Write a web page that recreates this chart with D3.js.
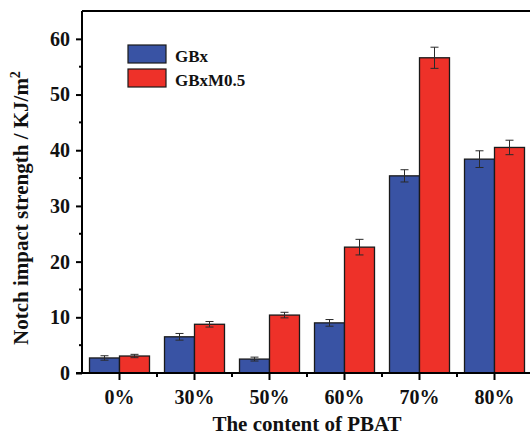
<!DOCTYPE html>
<html>
<head>
<meta charset="utf-8">
<script src="https://cdn.jsdelivr.net/npm/d3@7"></script>
<style>
  html, body { margin: 0; padding: 0; background: #fff; }
  svg { display: block; }
  text { font-family: "Liberation Serif", "Times New Roman", serif; font-weight: bold; fill: #111; }
</style>
</head>
<body>
<svg id="chart" width="530" height="437"></svg>
<script>
// PBAT content groups
const categories = ["0%", "30%", "50%", "60%", "70%", "80%"];
const seriesNames = ["GBx", "GBxM0.5"];
// Notch impact strength (KJ/m²)
const gbxValues = [2.7, 6.5, 2.5, 9.0, 35.4, 38.4];
const gbxErrors = [0.4, 0.6, 0.35, 0.6, 1.1, 1.5];
const gbxm05Values = [3.05, 8.75, 10.4, 22.6, 56.6, 40.5];
const gbxm05Errors = [0.3, 0.5, 0.5, 1.4, 1.9, 1.3];
const yTicks = [0, 10, 20, 30, 40, 50, 60];
const seriesColors = ["#3953a4", "#ee3129"];

const svg = d3.select("#chart");
const margin = { left: 82, right: -2, top: 11, bottom: 64 };
const W = 530, H = 437;
const x0 = margin.left, x1 = W - margin.right;
const yBottom = H - margin.bottom, yTop = margin.top;
const serif = '"Liberation Serif", "Times New Roman", serif';

const x = d3.scaleBand().domain(categories).range([x0, x1]).paddingInner(0.2).paddingOuter(0.1);
const xs = d3.scaleBand().domain(seriesNames).range([0, x.bandwidth()]);
const y = d3.scaleLinear().domain([0, 65]).range([yBottom, yTop]);

const rows = categories.map((c, i) => ({
  cat: c,
  items: [
    { s: seriesNames[0], v: gbxValues[i], e: gbxErrors[i], color: seriesColors[0] },
    { s: seriesNames[1], v: gbxm05Values[i], e: gbxm05Errors[i], color: seriesColors[1] }
  ]
}));

const g = svg.append("g");
const groups = g.selectAll("g.grp").data(rows).join("g")
  .attr("class", "grp")
  .attr("transform", d => `translate(${x(d.cat)},0)`);

groups.selectAll("rect").data(d => d.items).join("rect")
  .attr("x", d => xs(d.s))
  .attr("y", d => y(d.v))
  .attr("width", xs.bandwidth())
  .attr("height", d => y(0) - y(d.v))
  .attr("fill", d => d.color)
  .attr("stroke", "#1a1a1a")
  .attr("stroke-width", 1.3);

// error bars
const eb = groups.selectAll("g.err").data(d => d.items).join("g").attr("class", "err")
  .attr("stroke", "#2a2a2a").attr("stroke-width", 1);
const cx = d => xs(d.s) + xs.bandwidth() / 2;
eb.append("line")
  .attr("x1", cx).attr("x2", cx)
  .attr("y1", d => y(d.v + d.e)).attr("y2", d => y(d.v - d.e));
eb.append("line")
  .attr("x1", d => cx(d) - 4).attr("x2", d => cx(d) + 4)
  .attr("y1", d => y(d.v + d.e)).attr("y2", d => y(d.v + d.e));
eb.append("line")
  .attr("x1", d => cx(d) - 4).attr("x2", d => cx(d) + 4)
  .attr("y1", d => y(d.v - d.e)).attr("y2", d => y(d.v - d.e));

// frame (top and right)
svg.append("path")
  .attr("d", `M${x0},${yTop}H${x1}V${yBottom}`)
  .attr("fill", "none").attr("stroke", "#000").attr("stroke-width", 2);

// y axis
const yAxis = d3.axisLeft(y).tickValues(yTicks).tickSize(6).tickPadding(6);
const ya = svg.append("g").attr("transform", `translate(${x0},0)`).call(yAxis);
ya.select(".domain").attr("stroke-width", 2).attr("d", `M0,${yBottom}V${yTop}`);
ya.selectAll(".tick line").attr("stroke-width", 2);
ya.selectAll(".tick text").style("font-size", "20px").attr("fill", "#111")
  .style("font-family", serif).style("font-weight", "bold");
// minor y ticks
svg.append("g").selectAll("line").data(yTicks.slice(0, -1).map(t => t + 5)).join("line")
  .attr("x1", x0 - 3).attr("x2", x0).attr("y1", d => y(d)).attr("y2", d => y(d))
  .attr("stroke", "#000").attr("stroke-width", 2);

// x axis
const xAxis = d3.axisBottom(x).tickSize(7).tickPadding(10);
const xa = svg.append("g").attr("transform", `translate(0,${yBottom})`).call(xAxis);
xa.select(".domain").attr("stroke-width", 2).attr("d", `M${x0 - 6},0H${x1}`);
xa.selectAll(".tick line").attr("stroke-width", 2);
xa.selectAll(".tick text").style("font-size", "20px").attr("fill", "#111")
  .style("font-family", serif).style("font-weight", "bold");
// minor x ticks between groups
const bounds = categories.slice(1).map(c => x(c) - x.step() * x.paddingInner() / 2);
svg.append("g").selectAll("line").data(bounds).join("line")
  .attr("x1", d => d).attr("x2", d => d).attr("y1", yBottom).attr("y2", yBottom + 4)
  .attr("stroke", "#000").attr("stroke-width", 2);

// axis titles
svg.append("text")
  .attr("x", (x0 + x1) / 2).attr("y", 431)
  .attr("text-anchor", "middle").style("font-size", "21px")
  .text("The content of PBAT");

const yt = svg.append("text")
  .attr("transform", `translate(28,208) rotate(-90)`)
  .attr("text-anchor", "middle").style("font-size", "21px");
yt.append("tspan").text("Notch impact strength / KJ/m");
yt.append("tspan").attr("dy", -8).style("font-size", "14px").text("2");

// legend
const legend = svg.append("g").attr("transform", "translate(128,45)");
const li = legend.selectAll("g").data(seriesNames).join("g")
  .attr("transform", (d, i) => `translate(0,${i * 24})`);
li.append("rect").attr("width", 38).attr("height", 18)
  .attr("fill", (d, i) => seriesColors[i]).attr("stroke", "#1a1a1a").attr("stroke-width", 1.2);
li.append("text").attr("x", 47).attr("y", 17).style("font-size", "17px").text(d => d);
</script>
</body>
</html>
